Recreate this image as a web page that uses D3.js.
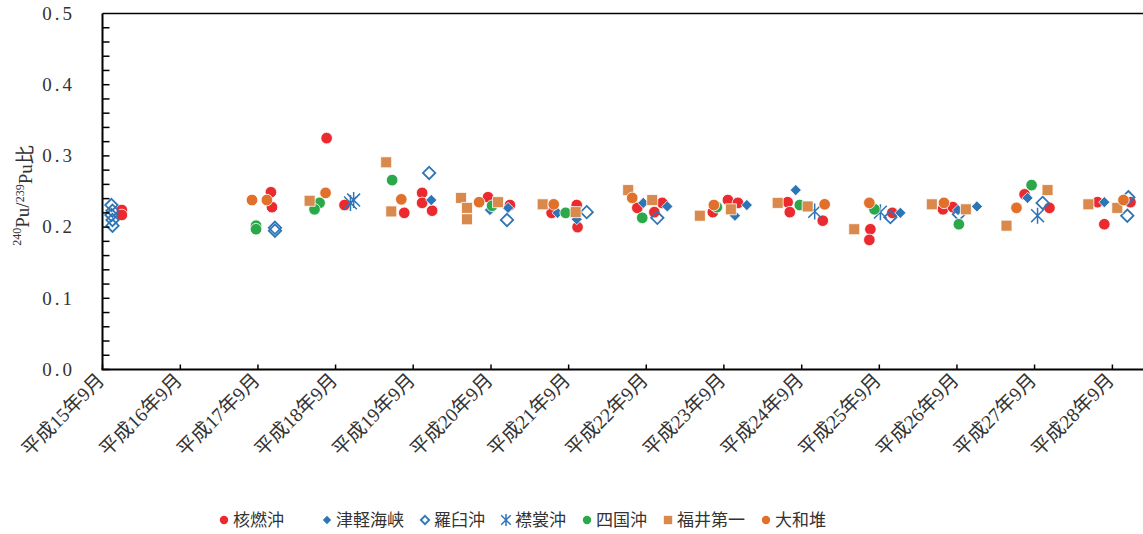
<!DOCTYPE html>
<html>
<head>
<meta charset="utf-8">
<script src="https://cdn.jsdelivr.net/npm/d3@7"></script>
<style>
body { margin: 0; background: #fff; }
.tick-label { font-family: "Liberation Serif", "Noto Sans CJK JP", serif; fill: #333; }
.legend text { font-family: "Noto Sans CJK JP", sans-serif; font-size: 17px; fill: #333; }
</style>
</head>
<body>
<div id="chart"></div>
<script>
// Series names (legend order = draw order)
const seriesNames = ['核燃沖', '津軽海峡', '羅臼沖', '襟裳沖', '四国沖', '福井第一', '大和堆']

// Data: [sampling date, 240Pu/239Pu ratio]
const kakunen = [
    ['2003-12-01', 0.224], ['2003-12-01', 0.217],
    ['2005-11-01', 0.249], ['2005-11-06', 0.228],
    ['2006-07-21', 0.325], ['2006-10-13', 0.231],
    ['2007-07-21', 0.220], ['2007-10-13', 0.248], ['2007-10-13', 0.234], ['2007-11-29', 0.223],
    ['2008-08-18', 0.242], ['2008-11-29', 0.231],
    ['2009-06-13', 0.220], ['2009-10-09', 0.231], ['2009-10-13', 0.200],
    ['2010-07-21', 0.227], ['2010-10-09', 0.221], ['2010-11-15', 0.234],
    ['2011-07-11', 0.221], ['2011-09-20', 0.238], ['2011-11-06', 0.234],
    ['2012-06-27', 0.235], ['2012-07-07', 0.221], ['2012-12-09', 0.209],
    ['2013-07-21', 0.197], ['2013-07-16', 0.182], ['2013-11-01', 0.220],
    ['2014-06-27', 0.225], ['2014-08-13', 0.228],
    ['2015-07-16', 0.246], ['2015-11-10', 0.227],
    ['2016-06-23', 0.235], ['2016-07-25', 0.204], ['2016-11-25', 0.235]
]
const tsugaru = [
    ['2007-11-25', 0.238],
    ['2008-08-27', 0.224], ['2008-11-20', 0.227],
    ['2009-07-11', 0.220], ['2009-10-09', 0.211],
    ['2010-08-18', 0.234], ['2010-12-09', 0.229],
    ['2011-10-23', 0.216], ['2011-12-18', 0.231],
    ['2012-08-04', 0.252],
    ['2013-12-09', 0.220],
    ['2014-09-06', 0.224], ['2014-12-04', 0.229],
    ['2015-07-30', 0.241],
    ['2016-07-25', 0.235]
]
const rausu = [
    ['2003-10-13', 0.231], ['2003-10-18', 0.223], ['2003-10-13', 0.217], ['2003-10-18', 0.210], ['2003-10-18', 0.202],
    ['2005-11-20', 0.199], ['2005-11-20', 0.195],
    ['2007-11-15', 0.276],
    ['2008-11-15', 0.210],
    ['2009-11-25', 0.221],
    ['2010-10-23', 0.213],
    ['2013-10-23', 0.214],
    ['2014-09-10', 0.218],
    ['2015-10-09', 0.234],
    ['2016-11-10', 0.216], ['2016-11-15', 0.242]
]
const erimo = [
    ['2006-11-10', 0.234], ['2006-11-25', 0.238],
    ['2012-11-01', 0.222],
    ['2013-09-06', 0.221],
    ['2015-09-15', 0.216]
]
const shikoku = [
    ['2005-08-23', 0.202], ['2005-08-23', 0.197],
    ['2006-06-18', 0.234], ['2006-05-25', 0.225],
    ['2007-05-25', 0.266],
    ['2008-09-06', 0.230],
    ['2009-08-18', 0.220],
    ['2010-08-13', 0.213],
    ['2011-07-30', 0.228],
    ['2012-08-23', 0.231],
    ['2013-08-09', 0.225],
    ['2014-09-10', 0.204],
    ['2015-08-18', 0.259]
]
const fukui = [
    ['2006-05-02', 0.237],
    ['2007-04-27', 0.291], ['2007-05-21', 0.222],
    ['2008-04-13', 0.241], ['2008-05-11', 0.227], ['2008-05-11', 0.211], ['2008-10-04', 0.235],
    ['2009-05-02', 0.232], ['2009-10-04', 0.221],
    ['2010-06-08', 0.252], ['2010-09-29', 0.238],
    ['2011-05-11', 0.216], ['2011-10-04', 0.225],
    ['2012-05-11', 0.234], ['2012-09-29', 0.229],
    ['2013-05-06', 0.197],
    ['2014-05-06', 0.232], ['2014-10-13', 0.225],
    ['2015-04-22', 0.202], ['2015-11-01', 0.252],
    ['2016-05-11', 0.232], ['2016-09-24', 0.227]
]
const yamato = [
    ['2005-08-04', 0.238], ['2005-10-13', 0.238],
    ['2006-07-16', 0.248],
    ['2007-07-07', 0.239],
    ['2008-07-07', 0.235],
    ['2009-06-23', 0.232],
    ['2010-06-27', 0.241],
    ['2011-07-16', 0.231],
    ['2012-12-18', 0.232],
    ['2013-07-16', 0.234],
    ['2014-07-02', 0.234],
    ['2015-06-08', 0.227],
    ['2016-10-23', 0.238]
]

// Tick years (September each year) and y ticks
const tickYears = d3.range(2003, 2017)
const yTicks = [0, 0.1, 0.2, 0.3, 0.4, 0.5]

const allSeries = [kakunen, tsugaru, rausu, erimo, shikoku, fukui, yamato]
const markerTypes = ['circle', 'diamond', 'hollowDiamond', 'star', 'circle', 'square', 'circle']
const colors = ['#ea2a2e', '#2e75b6', '#2e75b6', '#2e75b6', '#2aa84a', '#d8894b', '#e0702a']

const width = 1143, height = 534
const plotLeft = 102.5, plotTop = 13.5, plotBottom = 369.5, plotRight = 1150

const parseDate = d3.timeParse('%Y-%m-%d')

const svg = d3.select('#chart').append('svg')
    .attr('width', width)
    .attr('height', height)

const xScale = d3.scaleTime()
    .domain([new Date(2003, 8, 1), new Date(2016, 8, 1)])
    .range([plotLeft, 1112.4])

const yScale = d3.scaleLinear()
    .domain([0, 0.5])
    .range([plotBottom, plotTop])

// Marker path by type
function markerPath(type, s){
    if (type === 'diamond' || type === 'hollowDiamond'){
        return `M0,${-s}L${s},0L0,${s}L${-s},0Z`
    }
    if (type === 'square'){
        return `M${-s},${-s}H${s}V${s}H${-s}Z`
    }
    if (type === 'star'){
        const d = s * 0.8
        return `M${-d},${-d}L${d},${d}M${-d},${d}L${d},${-d}M0,${-s}V${s}`
    }
    return d3.symbol().type(d3.symbolCircle).size(Math.PI * s * s)()
}

function styleMarker(sel, type, color){
    if (type === 'hollowDiamond'){
        sel.attr('fill', 'none').attr('stroke', color).attr('stroke-width', 1.8)
    } else if (type === 'star'){
        sel.attr('fill', 'none').attr('stroke', color).attr('stroke-width', 1.5)
    } else {
        sel.attr('fill', color).attr('stroke', '#fff').attr('stroke-width', 0.8)
    }
}

const markerSize = {circle: 5.8, diamond: 5.6, hollowDiamond: 6.2, square: 5.5, star: 8}

// Points
allSeries.forEach((data, i) => {
    const type = markerTypes[i]
    const g = svg.append('g').attr('class', 'series-' + i)
    g.selectAll('path')
        .data(data)
        .enter()
        .append('path')
        .attr('d', markerPath(type, markerSize[type]))
        .attr('transform', d => `translate(${xScale(parseDate(d[0]))},${yScale(d[1])})`)
        .call(styleMarker, type, colors[i])
})

// Frame: top border
svg.append('line')
    .attr('x1', plotLeft).attr('x2', plotRight)
    .attr('y1', plotTop).attr('y2', plotTop)
    .attr('stroke', '#000').attr('stroke-width', 1.5)

// Y axis with inside ticks
const yAxisG = svg.append('g')
yAxisG.append('line')
    .attr('x1', plotLeft).attr('x2', plotLeft)
    .attr('y1', plotTop).attr('y2', plotBottom)
    .attr('stroke', '#000').attr('stroke-width', 2)
yAxisG.selectAll('.minor')
    .data(d3.range(0, 25).map(d => d * 0.02))
    .enter()
    .append('line')
    .attr('x1', plotLeft).attr('x2', plotLeft + 7)
    .attr('y1', d => yScale(d)).attr('y2', d => yScale(d))
    .attr('stroke', '#000').attr('stroke-width', 1.5)
yAxisG.selectAll('.ylab')
    .data(yTicks)
    .enter()
    .append('text')
    .attr('class', 'tick-label')
    .attr('x', 75)
    .attr('y', d => yScale(d))
    .attr('dy', '0.33em')
    .attr('text-anchor', 'end')
    .style('font-size', '19px')
    .style('letter-spacing', '3px')
    .text(d => d3.format('.1f')(d))

// X axis
const xAxisG = svg.append('g')
xAxisG.append('line')
    .attr('x1', plotLeft - 1).attr('x2', plotRight)
    .attr('y1', plotBottom).attr('y2', plotBottom)
    .attr('stroke', '#000').attr('stroke-width', 2)
xAxisG.selectAll('.xtick')
    .data(tickYears)
    .enter()
    .append('line')
    .attr('x1', d => xScale(new Date(d, 8, 1))).attr('x2', d => xScale(new Date(d, 8, 1)))
    .attr('y1', plotBottom).attr('y2', plotBottom - 5)
    .attr('stroke', '#000').attr('stroke-width', 1.5)
xAxisG.selectAll('.xlab')
    .data(tickYears)
    .enter()
    .append('text')
    .attr('class', 'tick-label')
    .attr('text-anchor', 'end')
    .style('font-size', '19.5px')
    .attr('transform', d => `translate(${xScale(new Date(d, 8, 1)) + 3},${plotBottom + 12}) rotate(-45)`)
    .text(d => `平成${d - 1988}年9月`)

// Y axis title
const yTitle = svg.append('text')
    .attr('class', 'tick-label')
    .attr('transform', `translate(26,${(plotTop + plotBottom) / 2 + 4}) rotate(-90)`)
    .attr('text-anchor', 'middle')
    .style('font-size', '19px')
yTitle.append('tspan').text('240').style('font-size', '12px').attr('dy', '-0.45em')
yTitle.append('tspan').text('Pu/').attr('dy', '0.45em')
yTitle.append('tspan').text('239').style('font-size', '12px').attr('dy', '-0.45em')
yTitle.append('tspan').text('Pu比').attr('dy', '0.45em')

// Legend
const legend = svg.append('g').attr('class', 'legend')
let lx = 219
seriesNames.forEach((name, i) => {
    const type = markerTypes[i]
    const item = legend.append('g')
    const m = item.append('path')
        .attr('d', markerPath(type, type === 'star' ? 6 : 4.2))
        .attr('transform', `translate(${lx + 5},520)`)
        .call(styleMarker, type, colors[i])
    if (type !== 'hollowDiamond' && type !== 'star') m.attr('stroke', 'none')
    const t = item.append('text')
        .attr('x', lx + 14)
        .attr('y', 520)
        .attr('dy', '0.36em')
        .text(name)
    lx = lx + 14 + t.node().getComputedTextLength() + (i === 0 ? 38 : 16)
})
</script>
</body>
</html>
